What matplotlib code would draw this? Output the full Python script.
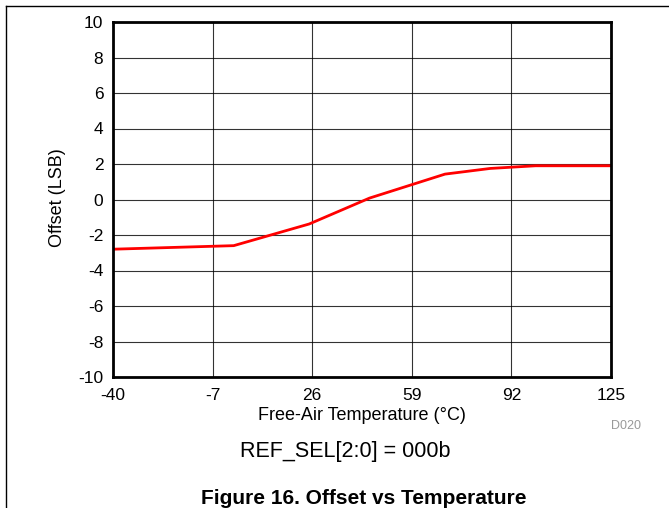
import matplotlib
matplotlib.use("Agg")
import matplotlib.pyplot as plt
from matplotlib.lines import Line2D

# data
temp = [-40, 0, 25, 45, 70, 85, 100, 125]
offset = [-2.8, -2.6, -1.38, 0.08, 1.43, 1.75, 1.9, 1.9]
xticks = [-40, -7, 26, 59, 92, 125]
yticks = [-10, -8, -6, -4, -2, 0, 2, 4, 6, 8, 10]

plt.rcParams['font.family'] = ['Liberation Sans', 'DejaVu Sans']
plt.rcParams['axes.unicode_minus'] = False

fig = plt.figure(figsize=(6.69, 5.08), dpi=100)
ax = fig.add_axes([113/669, 1-377/508, 498/669, 355/508])

ax.plot(temp, offset, color='#ff0000', lw=2)
ax.set_xlim(-40, 125)
ax.set_ylim(-10, 10)
ax.set_xticks(xticks)
ax.set_yticks(yticks)
ax.grid(True, color='black', lw=0.8, alpha=0.8)
ax.tick_params(length=0, labelsize=12.5)
ax.tick_params(axis='y', pad=7)
ax.tick_params(axis='x', pad=8)
for s in ax.spines.values():
    s.set_linewidth(2)
ax.set_axisbelow(True)

ax.set_xlabel('Free-Air Temperature (°C)', fontsize=13, labelpad=3)
fig.text(57/669, 1-198/508, 'Offset (LSB)', fontsize=13, rotation=90, ha='center', va='center')

fig.text(626/669, 1-426/508, 'D020', fontsize=9, color='#999999', ha='center', va='center')
fig.text(345/669, 1-451/508, 'REF_SEL[2:0] = 000b', fontsize=15.5, ha='center', va='center')
fig.text(201/669, 1-498/508, 'Figure 16. Offset vs Temperature', fontsize=15,
         fontweight='bold', ha='left', va='center')

# page frame lines
fig.add_artist(Line2D([6/669, 1], [1-6/508, 1-6/508], color='black', lw=1, transform=fig.transFigure))
fig.add_artist(Line2D([6/669, 6/669], [0, 1-6/508], color='black', lw=1, transform=fig.transFigure))

fig.savefig('out.png', dpi=100)
